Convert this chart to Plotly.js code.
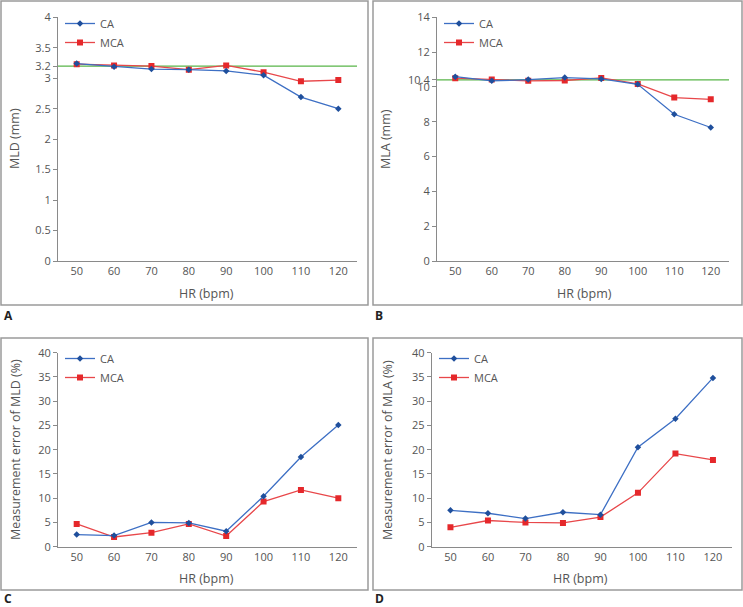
<!DOCTYPE html>
<html>
<head>
<meta charset="utf-8">
<script src="https://cdn.plot.ly/plotly-3.0.1.min.js"></script>
<style>html,body{margin:0;padding:0;background:#fff;}#chart{width:743px;height:607px;}</style>
</head>
<body>
<div id="chart"></div>
<script>
// ---- data ----
const hr = ['50', '60', '70', '80', '90', '100', '110', '120'];
const mldCA  = [3.24, 3.19, 3.15, 3.14, 3.12, 3.05, 2.69, 2.50];
const mldMCA = [3.23, 3.21, 3.20, 3.14, 3.21, 3.10, 2.95, 2.97];
const mlaCA  = [10.59, 10.35, 10.42, 10.54, 10.46, 10.15, 8.43, 7.67];
const mlaMCA = [10.50, 10.42, 10.35, 10.37, 10.52, 10.17, 9.39, 9.29];
const errMldCA  = [2.5, 2.3, 5.0, 4.9, 3.2, 10.4, 18.5, 25.1];
const errMldMCA = [4.7, 2.0, 2.9, 4.7, 2.2, 9.3, 11.7, 10.0];
const errMlaCA  = [7.5, 6.9, 5.8, 7.1, 6.6, 20.5, 26.4, 34.8];
const errMlaMCA = [4.0, 5.4, 5.0, 4.9, 6.1, 11.1, 19.2, 17.9];
const refMLD = 3.2;
const refMLA = 10.4;
const mldTicks = [0, 0.5, 1, 1.5, 2, 2.5, 3, 3.2, 3.5, 4];
const mlaTicks = [0, 2, 4, 6, 8, 10, 10.4, 12, 14];
const errTicks = [0, 5, 10, 15, 20, 25, 30, 35, 40];
const seriesNames = ['CA', 'MCA'];

// ---- layout helpers ----
const W = 743, H = 607;
const px = v => v / W;
const py = v => 1 - v / H;
const FONT = 'Open Sans, Noto Sans, sans-serif';
const TXT = '#555555';
const AX = '#8a8a8a';
const CA_LINE = '#3d6fc4', CA_MK = '#1f4f9c';
const MCA_LINE = '#e8474a', MCA_MK = '#e5282b';

function caTrace(y, xa, ya, lg) {
  return {x: hr, y: y, xaxis: xa, yaxis: ya, legend: lg, name: seriesNames[0], type: 'scatter', mode: 'lines+markers',
    line: {color: CA_LINE, width: 1.3}, marker: {symbol: 'diamond', size: 5, color: CA_MK}};
}
function mcaTrace(y, xa, ya, lg) {
  return {x: hr, y: y, xaxis: xa, yaxis: ya, legend: lg, name: seriesNames[1], type: 'scatter', mode: 'lines+markers',
    line: {color: MCA_LINE, width: 1.3}, marker: {symbol: 'square', size: 6, color: MCA_MK}};
}

const data = [
  mcaTrace(mldMCA, 'x', 'y', 'legend'), caTrace(mldCA, 'x', 'y', 'legend'),
  mcaTrace(mlaMCA, 'x2', 'y2', 'legend2'), caTrace(mlaCA, 'x2', 'y2', 'legend2'),
  mcaTrace(errMldMCA, 'x3', 'y3', 'legend3'), caTrace(errMldCA, 'x3', 'y3', 'legend3'),
  mcaTrace(errMlaMCA, 'x4', 'y4', 'legend4'), caTrace(errMlaCA, 'x4', 'y4', 'legend4')
];

function xax(dom, anchor) {
  return {domain: dom, anchor: anchor, type: 'category', range: [-0.5, hr.length - 0.5], autorange: false,
    showline: true, linecolor: AX, linewidth: 1, ticks: '', showgrid: false, zeroline: false,
    tickfont: {family: FONT, size: 11, color: TXT}, fixedrange: true};
}
function yax(dom, anchor, range, ticks) {
  return {domain: dom, anchor: anchor, range: range, autorange: false, tickmode: 'array', tickvals: ticks,
    ticktext: ticks.map(String), showline: true, linecolor: AX, linewidth: 1, ticks: 'outside', ticklen: 4,
    tickcolor: AX, showgrid: false, zeroline: false, tickfont: {family: FONT, size: 11, color: TXT}, fixedrange: true};
}
function leg(xp, yp) {
  return {x: px(xp), y: py(yp), xanchor: 'left', yanchor: 'top', bgcolor: 'rgba(0,0,0,0)',
    font: {family: FONT, size: 11, color: TXT}, itemwidth: 30, traceorder: 'reversed', tracegroupgap: 0};
}
const TTL = {family: FONT, size: 12.5, color: TXT};
function ann(text, x, y, opts) {
  return Object.assign({text: text, x: px(x), y: py(y), xref: 'paper', yref: 'paper', showarrow: false,
    xanchor: 'center', yanchor: 'middle', font: TTL}, opts || {});
}
function frame(x0, y0, x1, y1) {
  return {type: 'rect', xref: 'paper', yref: 'paper', x0: px(x0), x1: px(x1), y0: py(y1), y1: py(y0),
    line: {color: '#9a9a9a', width: 1.5}, fillcolor: 'rgba(0,0,0,0)', layer: 'below'};
}
function refLine(xa, ya, v) {
  return {type: 'line', xref: xa + ' domain', yref: ya, x0: 0, x1: 1, y0: v, y1: v,
    line: {color: '#58b548', width: 1.3}, layer: 'below'};
}

const yTop = [py(261), py(17.3)];
const yBot = [py(546.7), py(352.7)];
const LBL = {family: FONT, size: 12, color: '#222'};

const layout = {
  width: W, height: H, margin: {l: 0, r: 0, t: 0, b: 0},
  paper_bgcolor: '#ffffff', plot_bgcolor: 'rgba(0,0,0,0)',
  showlegend: true,
  xaxis:  xax([px(58), px(357)], 'y'),
  yaxis:  yax(yTop, 'x', [0, 4], mldTicks),
  xaxis2: xax([px(437), px(729)], 'y2'),
  yaxis2: yax(yTop, 'x2', [0, 14], mlaTicks),
  xaxis3: xax([px(58), px(357)], 'y3'),
  yaxis3: yax(yBot, 'x3', [0, 40], errTicks),
  xaxis4: xax([px(431.7), px(731.7)], 'y4'),
  yaxis4: yax(yBot, 'x4', [0, 40], errTicks),
  legend:  leg(60, 9),
  legend2: leg(439, 9),
  legend3: leg(60, 344),
  legend4: leg(434, 344),
  shapes: [
    frame(1, 1, 368, 305), frame(373, 1, 742, 305),
    frame(1, 338, 368, 590), frame(373, 338, 742, 590),
    refLine('x', 'y', refMLD), refLine('x2', 'y2', refMLA)
  ],
  annotations: [
    ann('MLD (mm)', 15, 139, {textangle: -90}),
    ann('MLA (mm)', 386, 139, {textangle: -90}),
    ann('Measurement error of MLD (%)', 15, 450, {textangle: -90}),
    ann('Measurement error of MLA (%)', 387, 450, {textangle: -90}),
    ann('HR (bpm)', 206, 293),
    ann('HR (bpm)', 584, 293),
    ann('HR (bpm)', 206, 578),
    ann('HR (bpm)', 580, 578),
    ann('<b>A</b>', 2, 315, {xanchor: 'left', font: LBL}),
    ann('<b>B</b>', 373, 315, {xanchor: 'left', font: LBL}),
    ann('<b>C</b>', 2, 598, {xanchor: 'left', font: LBL}),
    ann('<b>D</b>', 373, 598, {xanchor: 'left', font: LBL})
  ]
};

Plotly.newPlot('chart', data, layout, {displayModeBar: false, staticPlot: true});
</script>
</body>
</html>
